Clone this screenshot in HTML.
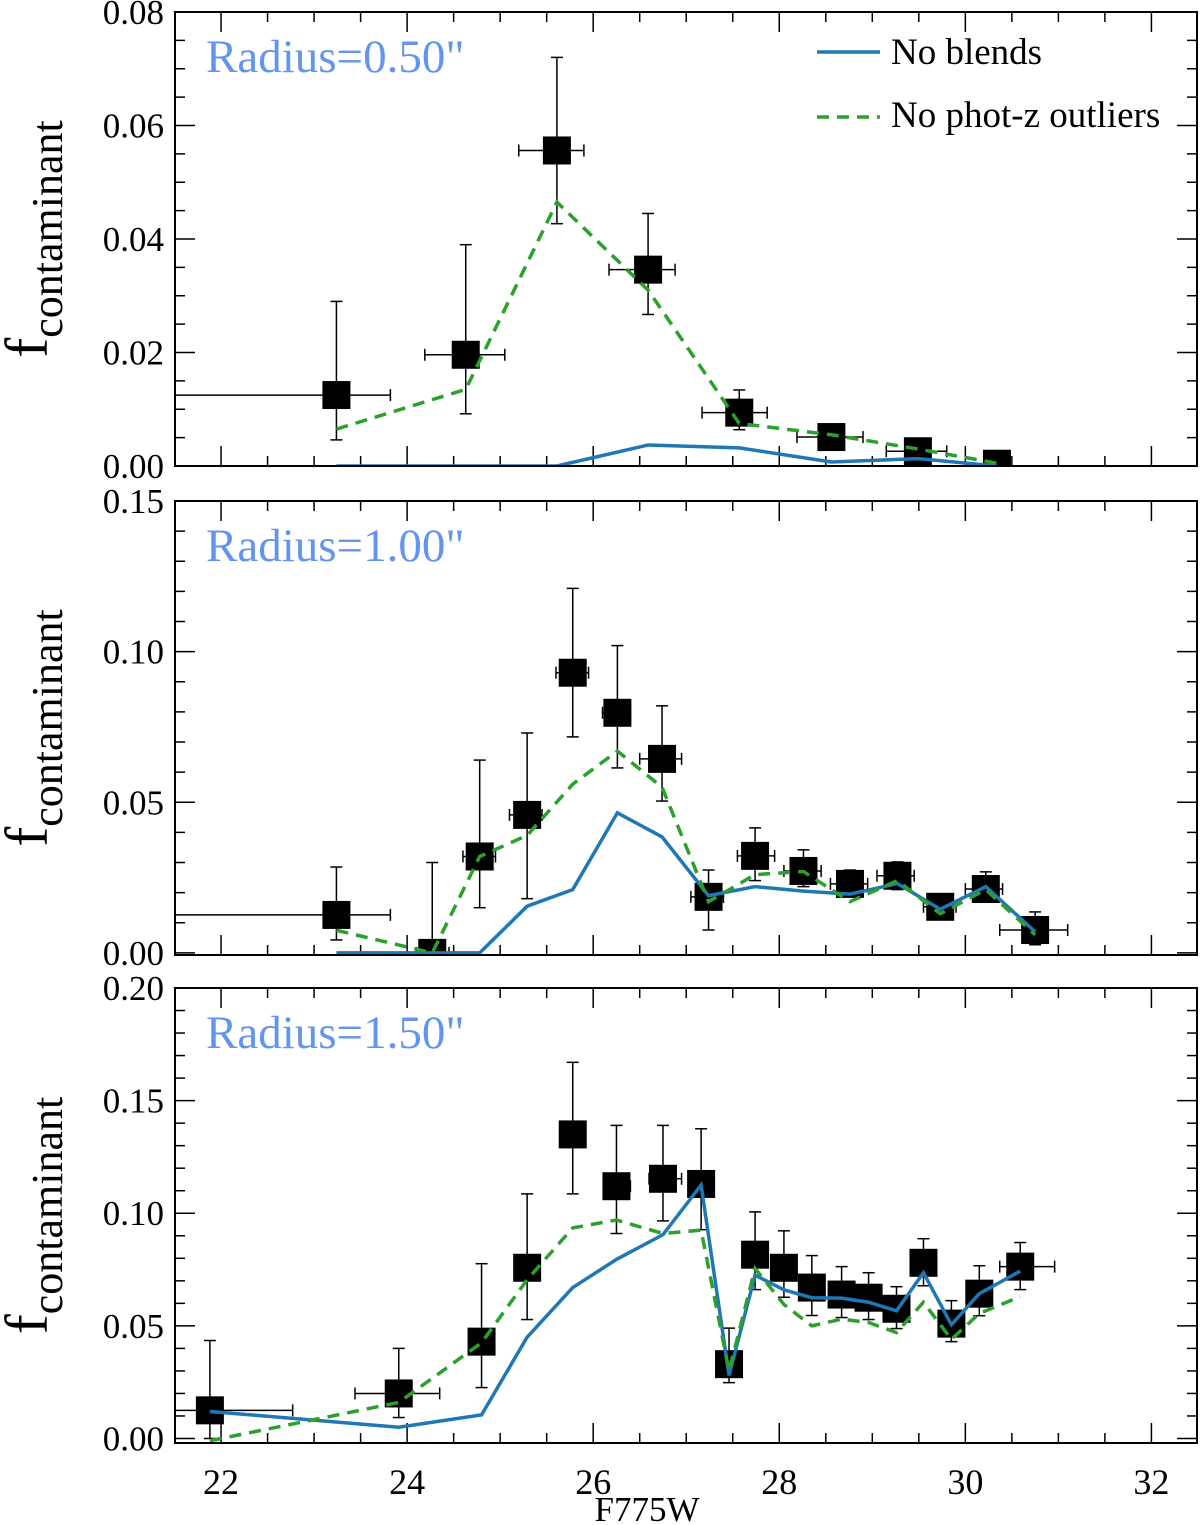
<!DOCTYPE html>
<html><head><meta charset="utf-8"><style>
body{margin:0;background:#fff}
svg{display:block;font-family:"Liberation Serif",serif}
</style></head><body>
<svg id="chart" width="1200" height="1525" xmlns="http://www.w3.org/2000/svg"></svg>
<script>
// ---- Panel 1 (Radius 0.50") ----
const p1X=[23.24,24.63,25.61,26.59,27.57,28.56,29.49,30.34];
const p1Y=[0.0125,0.0196,0.0556,0.0346,0.0094,0.0051,0.0026,0.0004];
const p1XLo=[21.5,24.19,25.2,26.17,27.17,28.19,29.15,30.34];
const p1XHi=[23.82,25.05,25.9,26.88,27.87,28.9,29.8,30.34];
const p1YLo=[0.0046,0.0092,0.0427,0.0267,0.0064,0.0037,0.0012,0.0004];
const p1YHi=[0.029,0.039,0.072,0.0445,0.0134,0.0064,0.0041,0.0004];
const p1Blue=[0,0,0,0.0037,0.0032,0.0007,0.0013,0];
const p1Green=[0.0065,0.0135,0.0465,0.031,0.0075,0.0055,0.003,0.0005];
const p1Ticks=["0.00","0.02","0.04","0.06","0.08"];
// ---- Panel 2 (Radius 1.00") ----
const p2X=[23.24,24.27,24.78,25.29,25.78,26.26,26.74,27.24,27.74,28.26,28.76,29.27,29.73,30.22,30.75];
const p2Y=[0.0126,0.0,0.032,0.0458,0.093,0.0797,0.0644,0.0186,0.0322,0.0272,0.0229,0.0256,0.0153,0.0212,0.0076];
const p2XLo=[21.5,24.1,24.6,25.1,25.6,26.1,26.5,27.05,27.55,28.05,28.55,29.05,29.55,30.0,30.37];
const p2XHi=[23.82,24.45,24.95,25.45,25.95,26.4,26.95,27.4,27.95,28.45,28.95,29.45,29.9,30.4,31.1];
const p2YLo=[0.0043,0.0,0.015,0.018,0.0717,0.0614,0.0504,0.0076,0.024,0.022,0.0193,0.021,0.012,0.017,0.0027];
const p2YHi=[0.0285,0.030,0.064,0.073,0.121,0.102,0.082,0.0275,0.0415,0.0342,0.0275,0.0302,0.0186,0.0269,0.0136];
const p2Blue=[0,0,0,0.0155,0.021,0.0465,0.0385,0.019,0.022,0.0205,0.0195,0.023,0.0145,0.022,0.007];
const p2Green=[0.0075,0.0,0.032,0.039,0.056,0.067,0.055,0.017,0.026,0.027,0.017,0.024,0.013,0.021,0.006];
const p2Ticks=["0.00","0.05","0.10","0.15"];
// ---- Panel 3 (Radius 1.50") ----
const p3X=[21.88,23.91,24.8,25.29,25.78,26.25,26.75,27.16,27.46,27.74,28.05,28.35,28.67,28.96,29.26,29.55,29.85,30.15,30.59];
const p3Y=[0.0125,0.020,0.043,0.0758,0.135,0.112,0.1153,0.113,0.033,0.0816,0.0758,0.067,0.0639,0.0625,0.0576,0.078,0.051,0.0643,0.0763];
const p3XLo=[21.5,23.44,24.8,25.29,25.78,26.2,26.6,27.16,27.46,27.74,28.05,28.35,28.67,28.96,29.26,29.55,29.85,30.15,30.37];
const p3XHi=[22.77,24.35,24.8,25.29,25.78,26.4,26.95,27.16,27.46,27.74,28.05,28.35,28.67,28.96,29.26,29.55,29.85,30.15,30.96];
const p3YLo=[0.0,0.0093,0.0226,0.0528,0.1086,0.091,0.0966,0.0927,0.0248,0.0661,0.0627,0.0546,0.0537,0.0528,0.0488,0.0678,0.0430,0.0545,0.0661];
const p3YHi=[0.0435,0.040,0.0776,0.1086,0.167,0.139,0.139,0.1375,0.049,0.1006,0.0922,0.0812,0.0763,0.0736,0.0674,0.0887,0.0612,0.0767,0.087];
const p3Blue=[0.012,0.005,0.0105,0.045,0.067,0.0795,0.0905,0.1125,0.028,0.0725,0.066,0.0625,0.0623,0.0605,0.0567,0.0736,0.0505,0.0643,0.0743];
const p3Green=[-0.001,0.016,0.0425,0.0705,0.0935,0.097,0.091,0.0925,0.030,0.0755,0.0595,0.050,0.053,0.0515,0.047,0.0605,0.044,0.0555,0.063];
const p3Ticks=["0.00","0.05","0.10","0.15","0.20"];
const xTicks=["22","24","26","28","30","32"];

const NS="http://www.w3.org/2000/svg";
const svg=document.getElementById("chart");
const L=175,R=1197;
function xs(v){return L+(v-21.505)*(R-L)/(32.49-21.505);}
function mk(tag,attrs,parent){const e=document.createElementNS(NS,tag);for(const k in attrs)e.setAttribute(k,attrs[k]);(parent||svg).appendChild(e);return e;}

function panel(idx,top,bot,ymin,ymax,ystep,yminor,tickLabels,X,Y,XLo,XHi,YLo,YHi,Blue,Green,label,showXLabels){
  const g=mk("g",{});
  
  
  const ys=v=>bot-(v-ymin)*(bot-top)/(ymax-ymin);
  for(let v=22;v<=32.01;v+=0.5){
    const x=xs(v),maj=Math.abs(v-Math.round(v/2)*2)<1e-6;const len=maj?20:10;
    mk("line",{x1:x,x2:x,y1:bot,y2:bot-len,stroke:"#000","stroke-width":1.5},g);
    mk("line",{x1:x,x2:x,y1:top,y2:top+len,stroke:"#000","stroke-width":1.5},g);
  }
  const n=Math.round((ymax-0)/yminor);
  for(let i=0;i<=n;i++){
    const v=i*yminor;if(v>ymax+1e-9)break;const y=ys(v);
    const maj=Math.abs(v/ystep-Math.round(v/ystep))<1e-6;const len=maj?20:10;
    mk("line",{x1:L,x2:L+len,y1:y,y2:y,stroke:"#000","stroke-width":1.5},g);
    mk("line",{x1:R,x2:R-len,y1:y,y2:y,stroke:"#000","stroke-width":1.5},g);
  }
  tickLabels.forEach((t,i)=>{
    const y=ys(i*ystep);
    const tx=mk("text",{x:164,y:y+12,"text-anchor":"end","font-size":35},g);tx.textContent=t;
    
    
  });
  if(showXLabels){xTicks.forEach(t=>{
    const tx=mk("text",{x:xs(+t),y:1494,"text-anchor":"middle","font-size":36},g);tx.textContent=t;
    
    
  });}
  const cid="clip"+idx;const cp=mk("clipPath",{id:cid},g);mk("rect",{x:L,y:top,width:R-L,height:bot-top},cp);
  const pg=mk("g",{"clip-path":"url(#"+cid+")"},g);
  X.forEach((xv,i)=>{
    const x=xs(xv),y=ys(Y[i]);
    const eb=mk("g",{stroke:"#000","stroke-width":1.5,fill:"none"},pg);
    
    
    const x1=xs(XLo[i]),x2=xs(XHi[i]),y1=ys(YLo[i]),y2=ys(YHi[i]);
    if(x2-x1>1){mk("line",{x1:x1,x2:x2,y1:y,y2:y},eb);mk("line",{x1:x1,x2:x1,y1:y-6,y2:y+6},eb);mk("line",{x1:x2,x2:x2,y1:y-6,y2:y+6},eb);}
    if(y1-y2>1){mk("line",{x1:x,x2:x,y1:y1,y2:y2},eb);mk("line",{x1:x-6,x2:x+6,y1:y1,y2:y1},eb);mk("line",{x1:x-6,x2:x+6,y1:y2,y2:y2},eb);}
  });
  X.forEach((xv,i)=>{
    const r=mk("rect",{x:xs(xv)-14,y:ys(Y[i])-14,width:28,height:28,fill:"#000"},pg);
    
    
  });
  const pts=arr=>X.map((xv,i)=>xs(xv)+","+ys(arr[i])).join(" ");
  const bl=mk("polyline",{points:pts(Blue),fill:"none",stroke:"#1f77b4","stroke-width":3.5,"stroke-linejoin":"miter"},pg);
  
  
  const gl=mk("polyline",{points:pts(Green),fill:"none",stroke:"#2ca02c","stroke-width":3.5,"stroke-dasharray":"12 8"},pg);
  
  
  const fr=mk("rect",{x:L,y:top,width:R-L,height:bot-top,fill:"none",stroke:"#000","stroke-width":2},g);
  
  
  const lt=mk("text",{x:206,y:top+60,"font-size":47,fill:"#6495ed"},g);lt.textContent=label;
  
  
  const yt=mk("text",{transform:"translate(47,"+((top+bot)/2)+") rotate(-90)","font-size":60,"text-anchor":"middle"},g);
  
  
  const f=mk("tspan",{},yt);f.textContent="f";
  const s=mk("tspan",{"font-size":44,dy:15},yt);s.textContent="contaminant";
}
panel(1,12,466,0,0.08,0.02,0.005,p1Ticks,p1X,p1Y,p1XLo,p1XHi,p1YLo,p1YHi,p1Blue,p1Green,'Radius=0.50"',false);
panel(2,501,955,-0.0007,0.15,0.05,0.01,p2Ticks,p2X,p2Y,p2XLo,p2XHi,p2YLo,p2YHi,p2Blue,p2Green,'Radius=1.00"',false);
panel(3,988,1443,-0.002,0.2,0.05,0.01,p3Ticks,p3X,p3Y,p3XLo,p3XHi,p3YLo,p3YHi,p3Blue,p3Green,'Radius=1.50"',true);

const xl=mk("text",{x:647,y:1521,"text-anchor":"middle","font-size":35});xl.textContent="F775W";


const lg=mk("g",{});


const l1=mk("line",{x1:817,x2:880,y1:52,y2:52,stroke:"#1f77b4","stroke-width":3.5},lg);


const t1=mk("text",{x:891,y:64,"font-size":37},lg);t1.textContent="No blends";


const l2=mk("line",{x1:817,x2:880,y1:117,y2:117,stroke:"#2ca02c","stroke-width":3.5,"stroke-dasharray":"12 8"},lg);


const t2=mk("text",{x:891,y:127,"font-size":37},lg);t2.textContent="No phot-z outliers";


</script>
</body></html>
